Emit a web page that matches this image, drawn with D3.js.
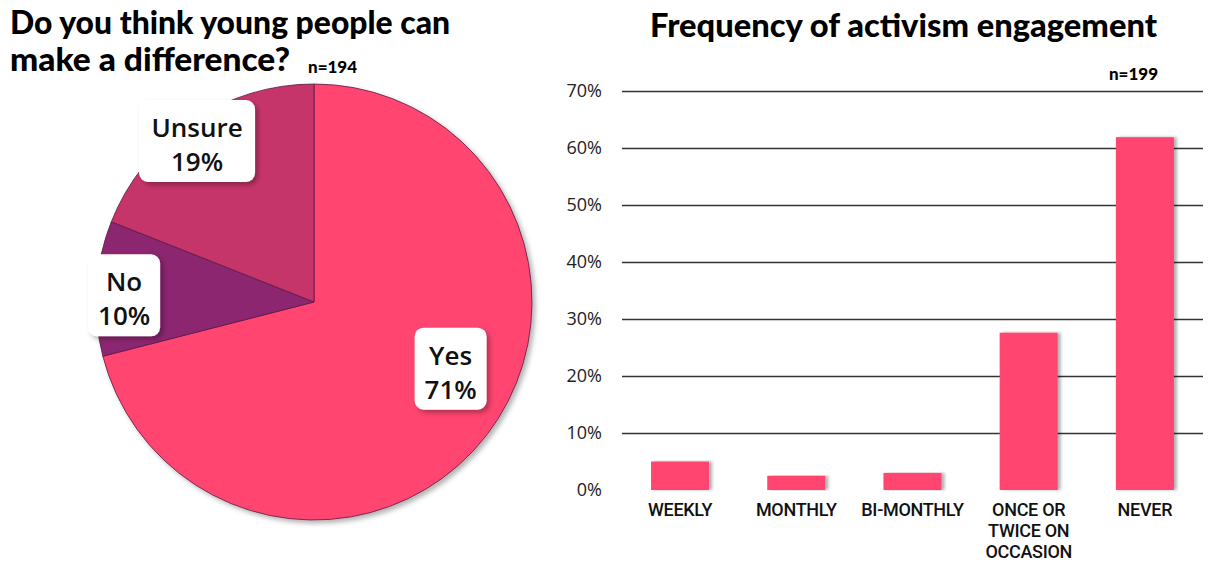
<!DOCTYPE html>
<html>
<head>
<meta charset="UTF-8">
<title>Youth activism</title>
<script src="https://d3js.org/d3.v7.min.js"></script>
<style>
    body { margin: 0; background: #fff; }
    svg { display: block; }
    .title { font-family: Lato, "DejaVu Sans", sans-serif; font-weight: 900; fill: #000; }
    .nlab { font-family: Lato, "DejaVu Sans", sans-serif; font-weight: 900; font-size: 17px; }
    .plab { font-family: "Open Sans", sans-serif; font-size: 26px; font-weight: 600; fill: #111; text-anchor: middle; }
    .tick text { font-family: "Open Sans", sans-serif; font-size: 18px; fill: #222; }
    .cat { font-family: Roboto, sans-serif; font-size: 18px; font-weight: 500; fill: #111; text-anchor: middle; letter-spacing: -0.3px; }
</style>
</head>
<body>
<svg id="chart" width="1219" height="567"></svg>
<script>
// pie data
var pieLabels = ["Yes", "No", "Unsure"];
var pieValues = [71, 10, 19];
var pieColors = ["#ff4570", "#8c2671", "#c6346b"];

// bar data
var barCats = [["WEEKLY"], ["MONTHLY"], ["BI-MONTHLY"], ["ONCE OR", "TWICE ON", "OCCASION"], ["NEVER"]];
var barValues = [5, 2.5, 3, 27.6, 61.9];
var yTicks = [0, 10, 20, 30, 40, 50, 60, 70];

var svg = d3.select("#chart");

var defs = svg.append("defs");
var sh = defs.append("filter").attr("id", "shadow").attr("x", "-20%").attr("y", "-20%").attr("width", "150%").attr("height", "150%");
sh.append("feDropShadow").attr("dx", 3).attr("dy", 3).attr("stdDeviation", 2.5).attr("flood-opacity", 0.3);
var sh2 = defs.append("filter").attr("id", "barshadow").attr("x", "-10%").attr("y", "-5%").attr("width", "130%").attr("height", "110%");
sh2.append("feDropShadow").attr("dx", 3).attr("dy", 0).attr("stdDeviation", 1.5).attr("flood-opacity", 0.3);

// ---------- pie ----------
svg.append("text").attr("class", "title").attr("x", 10).attr("y", 34)
    .style("font-size", "33px")
    .attr("textLength", 440).attr("lengthAdjust", "spacingAndGlyphs")
    .text("Do you think young people can");
svg.append("text").attr("class", "title").attr("x", 10).attr("y", 71)
    .style("font-size", "33px")
    .attr("textLength", 280).attr("lengthAdjust", "spacingAndGlyphs")
    .text("make a difference?");
svg.append("text").attr("class", "nlab").attr("x", 308).attr("y", 73).text("n=194");

var cx = 314, cy = 302, R = 218;
var pie = d3.pie().sort(null).value(function(d) { return d; });
var arc = d3.arc().innerRadius(0).outerRadius(R);
var arcs = pie(pieValues);

var gp = svg.append("g").attr("transform", "translate(" + cx + "," + cy + ")");
gp.append("g").attr("filter", "url(#shadow)")
    .selectAll("path").data(arcs).enter().append("path")
    .attr("d", arc)
    .attr("fill", function(d, i) { return pieColors[i]; })
    .attr("stroke", "#5a1a45")
    .attr("stroke-width", 0.8);

// label placement: [angle in degrees clockwise from top, radius]
var labelPlace = { Yes: [116, 152], No: [272, 190], Unsure: [324, 199] };
var boxW = { Yes: 72, No: 72, Unsure: 116 };

arcs.forEach(function(d, i) {
    var name = pieLabels[i];
    var p = labelPlace[name];
    var a = p[0] * Math.PI / 180;
    var x = Math.sin(a) * p[1], y = -Math.cos(a) * p[1];
    var g = gp.append("g").attr("transform", "translate(" + x + "," + y + ")");
    var w = boxW[name], h = 82;
    g.append("rect").attr("x", -w / 2).attr("y", -h / 2).attr("width", w).attr("height", h)
        .attr("rx", 9).attr("fill", "#fff").attr("filter", "url(#shadow)");
    g.append("text").attr("class", "plab").attr("y", -4).text(name);
    g.append("text").attr("class", "plab").attr("y", 30).text(pieValues[i] + "%");
});

// ---------- bars ----------
svg.append("text").attr("class", "title").attr("x", 650).attr("y", 37)
    .style("font-size", "33px")
    .attr("textLength", 507).attr("lengthAdjust", "spacingAndGlyphs")
    .text("Frequency of activism engagement");
svg.append("text").attr("class", "nlab").attr("x", 1158).attr("y", 80).attr("text-anchor", "end").text("n=199");

var x0 = 622, x1 = 1203, yTop = 91, yBot = 490;
var x = d3.scaleBand().domain(d3.range(barValues.length)).range([x0, x1])
    .paddingInner(0.5).paddingOuter(0.25);
var y = d3.scaleLinear().domain([0, 70]).range([yBot, yTop]);

var yAxis = svg.append("g").attr("transform", "translate(" + x0 + ",0)")
    .call(d3.axisLeft(y).tickValues(yTicks).tickSize(-(x1 - x0)).tickPadding(20)
        .tickFormat(function(d) { return d + "%"; }));
yAxis.select(".domain").remove();
yAxis.selectAll(".tick line").attr("stroke", function(d) { return d === 0 ? "none" : "#333"; }).attr("stroke-width", 1.3);

svg.append("g").selectAll("rect").data(barValues).enter().append("rect")
    .attr("x", function(d, i) { return x(i); })
    .attr("width", x.bandwidth())
    .attr("y", function(d) { return y(d); })
    .attr("height", function(d) { return yBot - y(d); })
    .attr("fill", "#ff4570")
    .attr("filter", "url(#barshadow)");

var cats = svg.append("g").selectAll("text").data(barCats).enter().append("text")
    .attr("class", "cat")
    .attr("x", function(d, i) { return x(i) + x.bandwidth() / 2; })
    .attr("y", 516);
cats.selectAll("tspan").data(function(d) { return d; }).enter().append("tspan")
    .attr("x", function() { return d3.select(this.parentNode).attr("x"); })
    .attr("dy", function(d, i) { return i === 0 ? 0 : 21; })
    .text(function(d) { return d; });
</script>
</body>
</html>
